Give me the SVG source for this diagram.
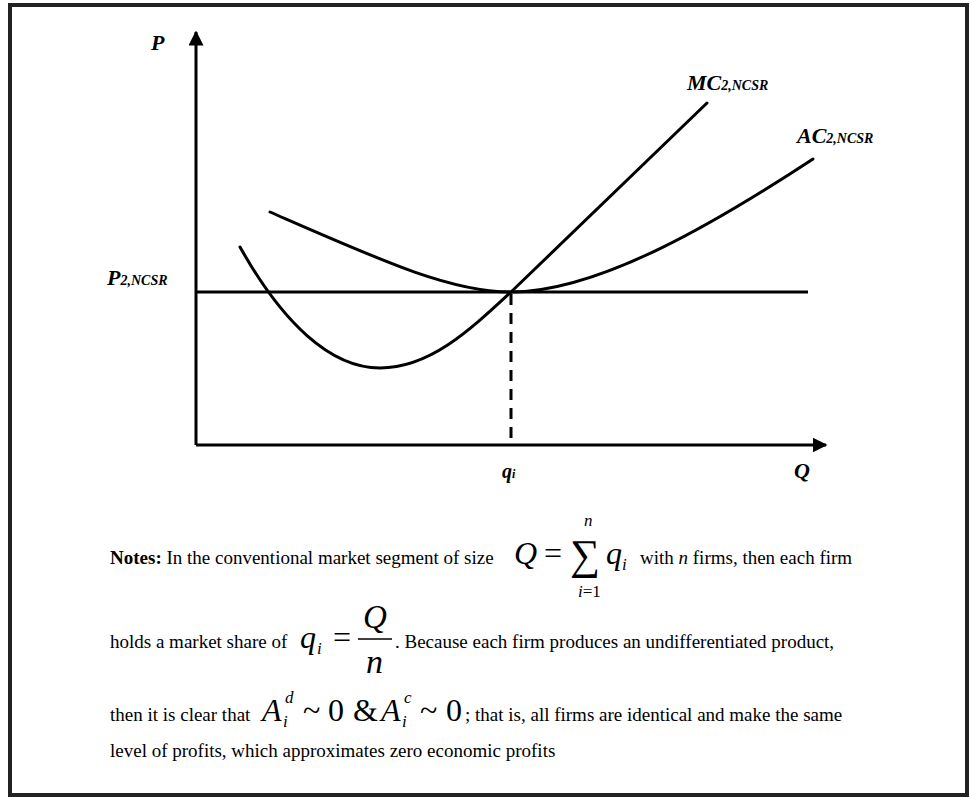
<svg xmlns="http://www.w3.org/2000/svg" width="970" height="798" viewBox="0 0 970 798">
<style>
.ax{stroke:#000;stroke-width:3;fill:none}
.cv{stroke:#000;stroke-width:3;fill:none;stroke-linecap:round}
.lb{font-family:"Liberation Serif",serif;font-weight:bold;font-style:italic;fill:#000}
.tx{font-family:"Liberation Serif",serif;font-size:19px;fill:#000}
.m{font-family:"Liberation Serif",serif;fill:#000}
.mi{font-family:"Liberation Serif",serif;font-style:italic;fill:#000}
</style>
<defs>
<marker id="ah" viewBox="0 0 10 10" refX="9" refY="5" markerWidth="5" markerHeight="5" orient="auto" markerUnits="strokeWidth">
<path d="M0,0 L10,5 L0,10 Z" fill="#000"/>
</marker>
</defs>
<rect x="10" y="5" width="957" height="790" fill="#fff" stroke="#222" stroke-width="4"/>
<g id="connectors">
<line id="y-axis" class="ax" x1="196" y1="445" x2="196" y2="32" marker-end="url(#ah)"/>
<line id="x-axis" class="ax" x1="196" y1="445" x2="826" y2="445" marker-end="url(#ah)"/>
<line id="price-line" class="ax" x1="196" y1="292" x2="808" y2="292"/>
<line id="qi-dash" class="ax" x1="511" y1="294" x2="511" y2="445" stroke-dasharray="11,8"/>
<path id="mc-curve" class="cv" d="M240,247 C282,322 330,368 380,368 C430,368 470,330 511,292 L707,103"/>
<path id="ac-curve" class="cv" d="M270,212 C380,260 450,292 511,292 C600,292 720,220 813,159"/>
</g>
<g id="label-P"><text class="lb" x="151" y="50" font-size="22">P</text></g>
<g id="label-Q"><text class="lb" x="794" y="478" font-size="22">Q</text></g>
<g id="label-qi"><text class="lb" x="502" y="478" font-size="20">q<tspan font-size="12">i</tspan></text></g>
<g id="label-P2"><text class="lb" x="107" y="285" font-size="22">P<tspan font-size="14">2,NCSR</tspan></text></g>
<g id="label-MC"><text class="lb" x="687" y="90" font-size="22">MC<tspan font-size="14">2,NCSR</tspan></text></g>
<g id="label-AC"><text class="lb" x="797" y="143" font-size="22">AC<tspan font-size="14">2,NCSR</tspan></text></g>
<g id="notes">
<text class="tx" x="110" y="564"><tspan font-weight="bold">Notes:</tspan> In the conventional market segment of size</text>
<text class="mi" x="514" y="564" font-size="32">Q</text>
<text class="m" x="544" y="564" font-size="32">=</text>
<text class="m" x="570" y="569" font-size="42">∑</text>
<text class="mi" x="606" y="564" font-size="32">q</text>
<text class="mi" x="622" y="570" font-size="17">i</text>
<text class="mi" x="584" y="526" font-size="17">n</text>
<text class="m" x="578" y="597" font-size="17"><tspan font-style="italic">i</tspan>=1</text>
<text class="tx" x="640" y="564">with <tspan font-style="italic">n</tspan> firms, then each firm</text>

<text class="tx" x="110" y="648">holds a market share of</text>
<text class="mi" x="300" y="648" font-size="32">q</text>
<text class="mi" x="317" y="654" font-size="17">i</text>
<text class="m" x="333" y="648" font-size="32">=</text>
<line x1="358" y1="639" x2="392" y2="639" stroke="#000" stroke-width="1.5"/>
<text class="mi" x="363" y="628" font-size="33">Q</text>
<text class="mi" x="366" y="673" font-size="34">n</text>
<text class="tx" x="395" y="648">. Because each firm produces an undifferentiated product,</text>

<text class="tx" x="110" y="721">then it is clear that</text>
<text class="mi" x="262" y="721" font-size="32">A</text>
<text class="mi" x="283" y="727" font-size="17">i</text>
<text class="mi" x="285" y="703" font-size="17">d</text>
<text class="m" x="303" y="721" font-size="32">~</text>
<text class="m" x="328" y="721" font-size="32">0</text>
<text class="m" x="353" y="721" font-size="32">&amp;</text>
<text class="mi" x="381" y="721" font-size="32">A</text>
<text class="mi" x="402" y="727" font-size="17">i</text>
<text class="mi" x="404" y="703" font-size="17">c</text>
<text class="m" x="420" y="721" font-size="32">~</text>
<text class="m" x="446" y="721" font-size="32">0</text>
<text class="tx" x="465" y="721">; that is, all firms are identical and make the same</text>

<text class="tx" x="110" y="757">level of profits, which approximates zero economic profits</text>
</g>
</svg>
